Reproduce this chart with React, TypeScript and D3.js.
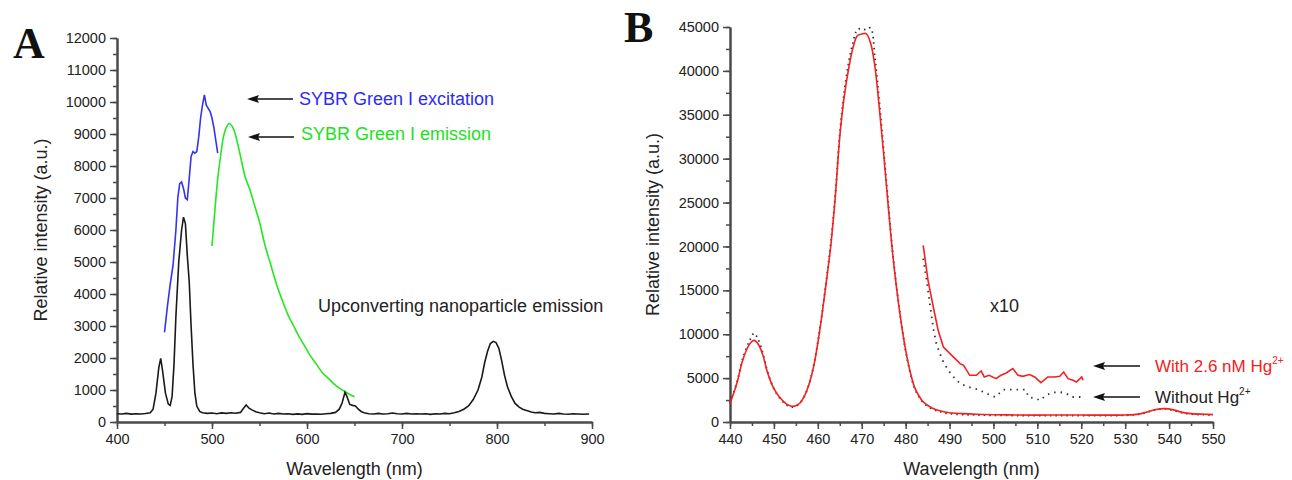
import React, { useEffect, useRef } from "react";
import * as d3 from "d3";

// ---------- Panel A data ----------
const nanoEmission: [number, number][] = [
  [400,260],[405,250],[410,270],[415,245],[420,260],[425,250],[430,265],[435,290],[438,400],[441,900],[444,1700],[446,1990],[448,1600],[451,900],[454,560],[456,520],[458,800],[460,1800],[462,3300],[465,5000],[468,6000],[470,6400],[472,6200],[474,5200],[476,4400],[478,3000],[480,1800],[482,900],[484,500],[487,330],[490,290],[495,270],[500,280],[505,260],[510,285],[515,270],[520,290],[525,275],[530,300],[533,420],[536,530],[539,430],[542,380],[546,320],[550,290],[555,260],[560,280],[565,250],[570,270],[575,250],[580,260],[585,240],[590,255],[595,240],[600,260],[605,245],[610,250],[615,240],[620,260],[625,270],[630,300],[634,400],[637,600],[640,930],[642,800],[645,550],[648,520],[651,500],[654,400],[657,330],[660,290],[665,260],[670,250],[675,270],[680,250],[685,260],[690,280],[695,260],[700,250],[705,270],[710,250],[715,260],[720,250],[725,260],[730,240],[735,260],[740,250],[745,270],[750,260],[755,290],[760,330],[765,400],[770,500],[775,700],[780,1000],[784,1400],[787,1850],[790,2200],[793,2450],[796,2520],[799,2480],[802,2300],[805,1900],[808,1450],[811,1100],[815,800],[819,580],[823,470],[827,400],[832,350],[836,310],[840,290],[845,300],[850,270],[855,260],[860,250],[865,270],[870,250],[875,240],[880,260],[885,250],[890,240],[897,250]
];
const sybrExcitation: [number, number][] = [
  [450,2800],[453,3600],[456,4300],[459,4900],[462,6000],[464,7000],[466,7450],[468,7500],[470,7300],[472,7000],[474,6950],[476,7600],[478,8300],[480,8450],[482,8400],[484,8450],[486,8900],[488,9500],[490,9900],[492,10220],[494,9900],[496,9800],[498,9700],[500,9500],[502,9200],[504,8800],[506,8400]
];
const sybrEmission: [number, number][] = [
  [500,5500],[503,6600],[506,7600],[509,8300],[512,8900],[515,9200],[518,9330],[521,9250],[524,9050],[527,8700],[530,8300],[535,7650],[540,7250],[545,6750],[550,6250],[556,5500],[562,4900],[568,4300],[574,3800],[580,3350],[586,3000],[592,2650],[598,2350],[604,2050],[610,1800],[616,1550],[622,1380],[628,1200],[634,1060],[640,950],[645,860],[650,790]
];
const aXTicks = [400, 500, 600, 700, 800, 900];
const aYTicks = d3.range(0, 12001, 1000);

// ---------- Panel B data ----------
const withHg: [number, number][] = [
  [440,2100],[441.5,4300],[443,7200],[444.5,8900],[445.5,9300],[446.5,8800],[447.5,7600],[448.5,5700],[450,3800],[451.5,2700],[453,2000],[454,1800],[455,1850],[456,2200],[457,3000],[458,4300],[459,6200],[460,9000],[461,12400],[462,16200],[463,20300],[464,25800],[465,32500],[466,37000],[467,40200],[468,42600],[469,44000],[470,44200],[471,44250],[472,43200],[473,40500],[474,35800],[475,30500],[476,24800],[477,19400],[478,15000],[479,11300],[480,8200],[481,5800],[482,4000],[483,3000],[484,2300],[486,1600],[488,1250],[490,1050],[493,950],[496,880],[500,830],[505,800],[510,780],[515,800],[520,790],[525,780],[530,800],[533,900],[535,1150],[537,1420],[539,1520],[541,1380],[543,1100],[545,950],[548,880],[550,840]
];
const withoutHg: [number, number][] = [
  [440,2200],[441.5,4400],[443,7400],[444.5,9300],[445.5,10100],[446.5,9300],[447.5,7800],[448.5,5800],[450,3800],[451.5,2600],[453,1900],[454,1700],[455,1800],[456,2200],[457,3000],[458,4300],[459,6300],[460,9100],[461,12500],[462,16400],[463,20600],[464,26000],[465,32800],[466,37500],[467,40900],[468,43200],[469,44700],[470,44800],[471,44700],[472,44900],[473,41500],[474,36500],[475,31000],[476,25200],[477,19600],[478,15100],[479,11300],[480,8100],[481,5700],[482,3900],[483,2900],[484,2200],[486,1500],[488,1150],[490,950],[493,850],[496,800],[500,760],[505,740],[510,720],[515,740],[520,730],[525,720],[530,760],[533,870],[535,1100],[537,1400],[539,1500],[541,1330],[543,1050],[545,900],[548,830],[550,800]
];
const withHgX10: [number, number][] = [
  [484,20130],[485.1,16143],[486.3,13100],[487.4,10446],[488.6,8544],[490.5,7595],[492.4,6653],[493.2,6450],[494.6,5320],[496.1,5320],[497.2,5810],[497.9,5130],[499,5320],[500.6,4940],[501.7,5320],[502.9,5582],[504.4,6083],[505.6,5320],[506.7,5200],[508.2,5400],[509.4,5130],[510.8,4480],[512.4,5130],[513.9,5130],[515.1,5200],[516,5700],[517,4940],[518.1,4750],[518.9,4560],[520.1,5130],[520.4,4750]
];
const withoutHgX10: [number, number][] = [
  [484,18608],[484.8,16143],[485.5,13490],[486.3,10640],[487,8930],[487.8,7790],[488.6,6840],[489.7,5890],[490.9,5130],[492.4,4370],[494.3,3990],[496.6,3690],[499.3,3040],[500.4,2850],[502.3,3690],[504.6,3690],[507.3,3690],[508,2850],[509.6,2660],[510.7,2470],[511.9,3040],[513.4,3350],[514.9,3420],[516.4,3300],[517.9,2850],[520,2850]
];
const bXTicks = d3.range(440, 551, 10);
const bYTicks = d3.range(0, 45001, 5000);

const SANS = "Arial, 'Liberation Sans', sans-serif";
const AXIS_COLOR = "#4a4a4a";

function drawAxes(
  g: d3.Selection<SVGGElement, unknown, null, undefined>,
  x: d3.ScaleLinear<number, number>,
  y: d3.ScaleLinear<number, number>,
  xMajor: number[], xMinor: number[], yMajor: number[], yMinor: number[],
  xTitle: string, yTitle: string, yTitleX: number
) {
  const [y0] = y.range();
  const [x0] = x.range();
  const style = (sel: any) => {
    sel.selectAll("path").attr("stroke", AXIS_COLOR).attr("stroke-width", 2);
    sel.selectAll("line").attr("stroke", AXIS_COLOR).attr("stroke-width", 1.5);
    sel.selectAll("text").attr("fill", "#222").attr("font-family", SANS).attr("font-size", 14.5);
  };
  g.append("g").attr("transform", `translate(0,${y0})`)
    .call(d3.axisBottom(x).tickValues(xMinor).tickSize(4).tickSizeOuter(0).tickFormat(() => ""))
    .call(style);
  g.append("g").attr("transform", `translate(0,${y0})`)
    .call(d3.axisBottom(x).tickValues(xMajor).tickSize(7).tickSizeOuter(0).tickPadding(5).tickFormat(d3.format("d")))
    .call(style);
  g.append("g").attr("transform", `translate(${x0},0)`)
    .call(d3.axisLeft(y).tickValues(yMinor).tickSize(4).tickSizeOuter(0).tickFormat(() => ""))
    .call(style);
  g.append("g").attr("transform", `translate(${x0},0)`)
    .call(d3.axisLeft(y).tickValues(yMajor).tickSize(7).tickSizeOuter(0).tickPadding(4).tickFormat(d3.format("d")))
    .call(style);
  const [xa, xb] = x.range();
  g.append("text").attr("x", (xa + xb) / 2).attr("y", 475).attr("text-anchor", "middle")
    .attr("font-family", SANS).attr("font-size", 18).attr("fill", "#222").text(xTitle);
  const [ya, yb] = y.range();
  const yc = (ya + yb) / 2;
  g.append("text").attr("transform", `translate(${yTitleX},${yc}) rotate(-90)`)
    .attr("text-anchor", "middle").attr("dominant-baseline", "central")
    .attr("font-family", SANS).attr("font-size", 18).attr("fill", "#222").text(yTitle);
}

function arrow(g: any, x1: number, x2: number, yy: number) {
  g.append("line").attr("x1", x1 + 8).attr("x2", x2).attr("y1", yy).attr("y2", yy)
    .attr("stroke", "#111").attr("stroke-width", 1.6);
  g.append("path").attr("d", `M${x1},${yy} L${x1 + 12},${yy - 4} L${x1 + 10},${yy} L${x1 + 12},${yy + 4} Z`)
    .attr("fill", "#111");
}

export default function App() {
  const ref = useRef<SVGSVGElement>(null);
  useEffect(() => {
    const svg = d3.select(ref.current!);
    svg.selectAll("*").remove();
    svg.append("rect").attr("width", 1292).attr("height", 480).attr("fill", "#fff");

    // ---------- Panel A ----------
    const xA = d3.scaleLinear().domain([400, 900]).range([117, 592]);
    const yA = d3.scaleLinear().domain([0, 12000]).range([422, 38]);
    const gA = svg.append("g");
    drawAxes(gA as any, xA, yA, aXTicks, d3.range(400, 901, 50), aYTicks, d3.range(0, 12001, 500),
      "Wavelength (nm)", "Relative intensity (a.u.)", 41);
    const lineA = d3.line<[number, number]>().x(d => xA(d[0])).y(d => yA(d[1])).curve(d3.curveLinear);
    const smoothA = d3.line<[number, number]>().x(d => xA(d[0])).y(d => yA(d[1])).curve(d3.curveCatmullRom);
    gA.append("path").attr("d", smoothA(sybrEmission)!).attr("fill", "none").attr("stroke", "#22e822").attr("stroke-width", 1.6);
    gA.append("path").attr("d", lineA(sybrExcitation)!).attr("fill", "none").attr("stroke", "#3434f0").attr("stroke-width", 1.6);
    gA.append("path").attr("d", lineA(nanoEmission)!).attr("fill", "none").attr("stroke", "#1a1a1a").attr("stroke-width", 1.6);
    arrow(gA, 247, 293, 99);
    arrow(gA, 248, 294, 137);
    gA.append("text").attr("x", 299).attr("y", 105).attr("font-family", SANS).attr("font-size", 18).attr("fill", "#2c2cf5").text("SYBR Green I excitation");
    gA.append("text").attr("x", 301).attr("y", 140).attr("font-family", SANS).attr("font-size", 18).attr("fill", "#22e022").text("SYBR Green I emission");
    gA.append("text").attr("x", 318).attr("y", 312).attr("font-family", SANS).attr("font-size", 18).attr("fill", "#222").text("Upconverting nanoparticle emission");
    gA.append("text").attr("x", 13).attr("y", 58).attr("font-family", "'Liberation Serif', 'Times New Roman', serif")
      .attr("font-weight", "bold").attr("font-size", 44).attr("fill", "#111").text("A");

    // ---------- Panel B ----------
    const xB = d3.scaleLinear().domain([440, 550]).range([730, 1213]);
    const yB = d3.scaleLinear().domain([0, 45000]).range([422, 27]);
    const gB = svg.append("g");
    drawAxes(gB as any, xB, yB, bXTicks, d3.range(440, 551, 5), bYTicks, d3.range(0, 45001, 2500),
      "Wavelength (nm)", "Relative intensity (a.u.)", 653);
    const smoothB = d3.line<[number, number]>().x(d => xB(d[0])).y(d => yB(d[1])).curve(d3.curveCatmullRom);
    const linB = d3.line<[number, number]>().x(d => xB(d[0])).y(d => yB(d[1])).curve(d3.curveLinear);
    gB.append("path").attr("d", smoothB(withoutHg)!).attr("fill", "none").attr("stroke", "#333")
      .attr("stroke-width", 1.8).attr("stroke-dasharray", "1.5,4");
    gB.append("path").attr("d", linB(withoutHgX10)!).attr("fill", "none").attr("stroke", "#333")
      .attr("stroke-width", 1.8).attr("stroke-dasharray", "1.5,5");
    gB.append("path").attr("d", smoothB(withHg)!).attr("fill", "none").attr("stroke", "#f52020").attr("stroke-width", 1.6);
    gB.append("path").attr("d", linB(withHgX10)!).attr("fill", "none").attr("stroke", "#f52020").attr("stroke-width", 1.6);
    gB.append("text").attr("x", 990).attr("y", 312).attr("font-family", SANS).attr("font-size", 18).attr("fill", "#222").text("x10");
    arrow(gB, 1093, 1140, 366);
    arrow(gB, 1093, 1140, 397);
    const t1 = gB.append("text").attr("x", 1155).attr("y", 372).attr("font-family", SANS).attr("font-size", 17).attr("fill", "#f52020");
    t1.append("tspan").text("With 2.6 nM Hg");
    t1.append("tspan").attr("dy", -8).attr("font-size", 10).text("2+");
    const t2 = gB.append("text").attr("x", 1155).attr("y", 403).attr("font-family", SANS).attr("font-size", 17).attr("fill", "#222");
    t2.append("tspan").text("Without Hg");
    t2.append("tspan").attr("dy", -8).attr("font-size", 10).text("2+");
    gB.append("text").attr("x", 624).attr("y", 42).attr("font-family", "'Liberation Serif', 'Times New Roman', serif")
      .attr("font-weight", "bold").attr("font-size", 44).attr("fill", "#111").text("B");
  }, []);
  return (
    <svg ref={ref} width={1292} height={480} style={{ position: "absolute", left: 0, top: 0 }} />
  );
}
